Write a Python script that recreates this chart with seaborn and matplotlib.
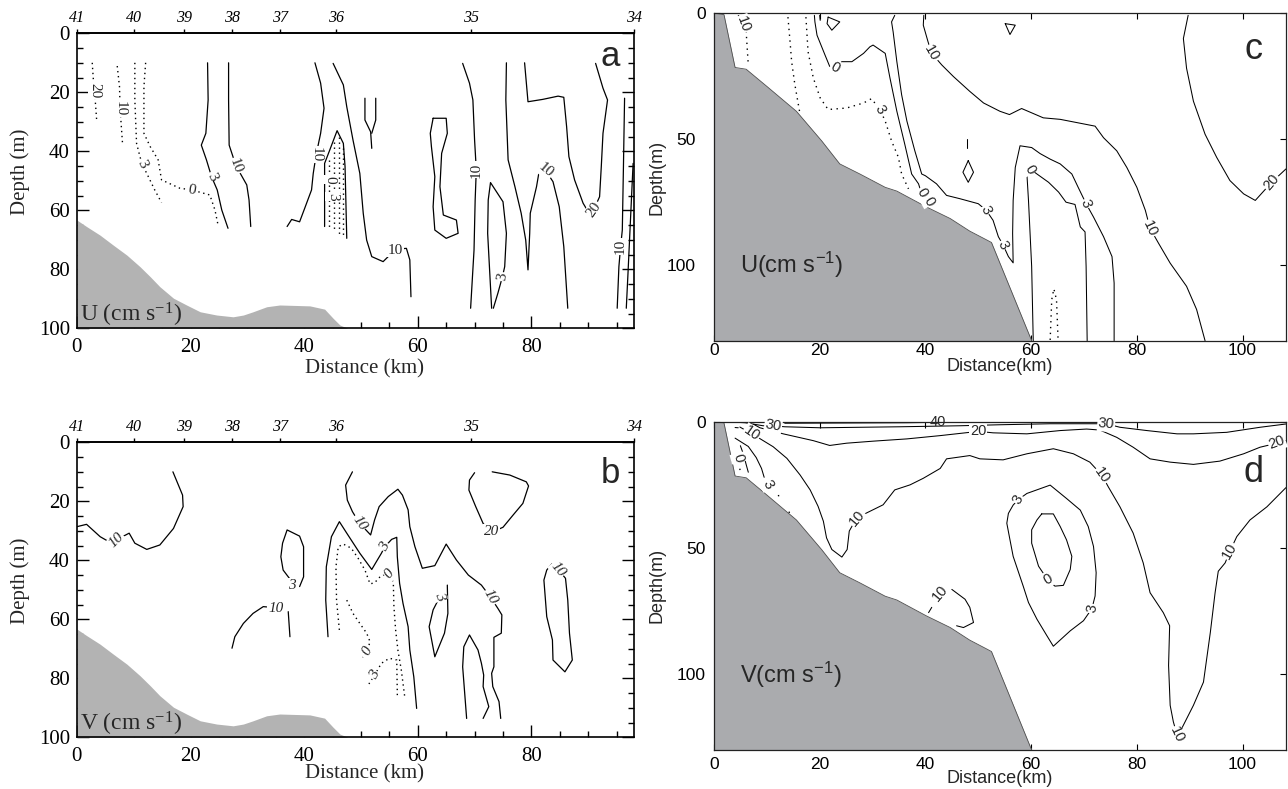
import matplotlib
matplotlib.use("Agg")
import matplotlib.pyplot as plt
import matplotlib.transforms as mtransforms
from matplotlib.ticker import MultipleLocator
import pandas as pd
import seaborn as sns

# ---------------------------------------------------------------------------
# Data: contour polylines (distance km, depth m), read per panel
# ---------------------------------------------------------------------------
STATION_KM = [0, 10.1, 18.9, 27.3, 35.8, 45.6, 69.3, 98.0]
STATION_NAMES = ["41", "40", "39", "38", "37", "36", "35", "34"]

# bottom profile of the transect in panels a, b
AB_BOTTOM_X = [0, 1.7, 4.06, 6.4, 8.8, 11.1, 12.9, 14.6, 17.0, 19.3, 21.7, 24.6,
               27.5, 29.3, 31.0, 33.4, 35.7, 41.0, 43.6, 45.1, 46.3, 47.7]
AB_BOTTOM_Z = [63.3, 65.5, 68.4, 71.8, 75.2, 79.1, 82.5, 85.9, 89.8, 92.1, 94.4, 95.5,
               96.1, 95.5, 94.4, 92.7, 92.1, 92.4, 93.5, 96.6, 98.9, 100]

# bottom profile of the model section in panels c, d
CD_BOTTOM_X = [0, 1.9, 4.0, 6.1, 10.0, 15.6, 20.4, 23.8, 27.6, 32.4, 34.6, 40.2,
               44.7, 48.4, 51.6, 52.5, 60.1]
CD_BOTTOM_Z = [0, 0.5, 21.5, 22.2, 29, 38.9, 50.7, 59.8, 63.8, 69.1, 70.6, 76.9,
               81.5, 86.5, 90, 91, 130]

# ---- panel a : U observed ----
a_neg20 = [(2.7, 10.0), (2.9, 15.8), (3.2, 22), (3.5, 30.0)]
a_neg10 = [(7.1, 11.1), (7.5, 18.1), (7.6, 25.4), (7.8, 31), (8.05, 37.9)]
a_neg3 = [(10.2, 10.0), (10.2, 22.6), (10.5, 37.3), (11.1, 41.8), (11.5, 44.5), (12.3, 47.5),
          (13.7, 53.1), (14.9, 57.4)]
a_neg0 = [(12.1, 10.0), (11.8, 18.1), (11.8, 33.9), (12.9, 38.4), (14.3, 42.9), (14.9, 49.7),
          (18.1, 52.5), (20.2, 53.1), (23.4, 54.8), (24.3, 59.9), (24.9, 65.5)]
a_3a = [(23.0, 10), (23.1, 22.6), (22.7, 33.9), (21.9, 37.9), (22.8, 42.9), (23.7, 48.6),
        (24.7, 53.1), (25.5, 59.9), (26.6, 66.1)]
a_10a = [(26.7, 10), (26.7, 22.6), (26.8, 37.9), (28.0, 44.9), (29.9, 51.4), (30.3, 56.5),
         (30.6, 65.5)]
a_10b = [(41.9, 10), (42.9, 16.9), (43.5, 25.4), (42.9, 33.9), (42.1, 41.3), (41.6, 47.5),
         (41.3, 53.1), (40.1, 59.3), (39.2, 63.9), (37.8, 63.1), (37.0, 65.5)]
a_3b = [(43.6, 65.5), (43.6, 44.1), (44.5, 39.6), (45.8, 33.0), (46.9, 37.3), (47.2, 45.2),
        (47.5, 69.5)]
a_core1 = [(44.3, 43), (44.3, 66)]
a_core2 = [(45.2, 37), (45.2, 67)]
a_core3 = [(46.1, 35), (46.1, 68)]
a_core4 = [(46.9, 39), (46.9, 69)]
a_10c = [(45.1, 10.2), (46.9, 17.5), (47.5, 24.9), (48.6, 36.2), (49.8, 47.5), (50.4, 61.0),
         (51.0, 70.1), (51.9, 75.7), (53.9, 77.4), (56.1, 73.2), (58.0, 72.9), (58.6, 76.8),
         (58.8, 89.3)]
a_cell1 = [(50.7, 22.0), (50.7, 29.4), (51.7, 33.4), (51.9, 39.0)]
a_cell2 = [(52.6, 22.0), (52.6, 29.4), (51.9, 33.9)]
a_loop = [(62.7, 28.8), (65.0, 28.8), (65.2, 33.9), (64.2, 40.7), (63.9, 52.0), (64.5, 61.6),
          (66.8, 63.3), (67.1, 67.8), (65.0, 69.5), (63.0, 66.7), (62.7, 58.8), (63.0, 48.6),
          (62.4, 38.4), (62.2, 33.9), (62.7, 28.8)]
a_10d = [(67.9, 10.2), (69.1, 16.9), (69.7, 22.6), (70.0, 36.2), (70.3, 46.3), (70.1, 56.5),
         (69.9, 73.5), (69.3, 93.2)]
a_3c = [(73.0, 93.2), (72.3, 67.8), (72.4, 56.5), (72.8, 50.6), (75.0, 57.1), (75.6, 67.8),
        (75.3, 79.1), (74.9, 82.5), (74.1, 88.1), (73.3, 93.2)]
a_10e = [(75.6, 10), (75.5, 22.6), (75.9, 42.9), (77.1, 52.0), (78.2, 61.0), (79.0, 70.1),
         (79.4, 80.2), (79.7, 67.8), (79.8, 61.0), (80.9, 52.0), (81.3, 47.5), (82.7, 47.1),
         (83.8, 50.3), (84.9, 58.8), (85.7, 72.3), (86.4, 93.2)]
a_20 = [(78.8, 10), (79.4, 23.2), (82.0, 22.4), (84.7, 21.3), (85.7, 21.7), (86.2, 31.7),
        (86.6, 41.8), (87.6, 49.7), (89.1, 57.6), (90.0, 60.5), (91.0, 59.7), (92.0, 55.4),
        (92.3, 45.2), (92.6, 33.9), (93.4, 22.6), (92.6, 18.6), (91.3, 10.2)]
a_10f = [(96.4, 22.0), (96.2, 45.2), (96.0, 66.7), (95.7, 72.3), (95.4, 79.1), (95.1, 93.2)]
a_10g = [(97.9, 44.1), (97.6, 56.5), (97.0, 81.4), (96.7, 93.2)]

A_SOLID = [a_3a, a_10a, a_10b, a_3b, a_10c, a_cell1, a_cell2, a_loop, a_10d, a_3c, a_10e,
           a_20, a_10f, a_10g]
A_DOTTED = [a_neg20, a_neg10, a_neg3, a_neg0, a_core1, a_core2, a_core3, a_core4]
A_LABELS = [("20", 3.2, 19.5, -90), ("10", 7.6, 25.4, -90), ("3", 11.4, 44.3, -65),
            ("0", 20.2, 53.1, -10), ("3", 23.7, 48.6, -65), ("10", 28.0, 44.9, -70),
            ("10", 42.2, 41.0, -90), ("0", 44.5, 49.7, -90), ("3", 45.0, 55.4, -90),
            ("10", 56.1, 73.5, 0), ("10", 70.3, 46.3, 90), ("3", 74.9, 82.5, 80),
            ("10", 82.5, 46.5, -40), ("20", 91.0, 59.7, 55), ("10", 95.7, 72.3, 90)]

# ---- panel b : V observed ----
b_10a = [(0, 28.6), (1.7, 27.8), (4.1, 32.0), (6.1, 34.2), (6.9, 33.1), (9.2, 30.8),
         (10.2, 34.2), (12.3, 36.3), (14.6, 34.8), (17.0, 29.2), (18.7, 21.8), (18.6, 17.9),
         (16.9, 10.0)]
b_3a = [(37.4, 46.1), (36.3, 43.3), (35.9, 38.8), (36.2, 34.2), (37.0, 29.7), (39.2, 31.8),
        (39.9, 35.4), (39.9, 45.6), (39.2, 48.9)]
b_10b = [(27.3, 69.8), (27.8, 65.9), (29.3, 61.4), (31.0, 58.0), (32.8, 55.7), (33.4, 55.8)]
b_10s = [(37.2, 57.4), (37.5, 65.9)]
b_3b = [(44.2, 65.9), (43.8, 53.5), (43.9, 42.2), (44.8, 32.0), (46.2, 26.9), (47.5, 30.8),
        (49.8, 37.6), (51.9, 43.1), (52.7, 40.5), (53.6, 37.6), (54.2, 35.4), (55.4, 32.9),
        (56.3, 32.2), (56.4, 38.8), (56.8, 47.8), (57.4, 54.6), (58.3, 62.5), (58.6, 70.4),
        (59.3, 79.5), (59.8, 90.2)]
b_neg0a = [(46.2, 63.6), (45.7, 53.5), (45.6, 42.2), (46.0, 35.4), (46.9, 34.5), (48.3, 35.9),
           (49.5, 39.3), (50.7, 43.3), (51.6, 48.0), (52.4, 47.6), (53.5, 45.3), (55.1, 44.2),
           (55.7, 47.8), (55.8, 55.7), (56.1, 63.6), (56.5, 70.4), (57.1, 77.2), (57.7, 86.2)]
b_neg0b = [(47.5, 53.5), (48.6, 58.0), (49.8, 61.4), (51.0, 64.7), (51.6, 67.6), (51.1, 70.6),
           (50.3, 72.9)]
b_neg3 = [(56.4, 85.7), (56.3, 73.8), (55.0, 73.2), (53.6, 74.9), (52.4, 78.9), (51.4, 81.9)]
b_10c = [(48.5, 10.0), (47.3, 14.5), (47.6, 19.6), (48.5, 23.5), (49.7, 27.3), (51.7, 31.4),
         (52.4, 26.3), (53.2, 21.8), (54.8, 18.4), (56.5, 15.9), (57.3, 17.9), (58.3, 22.9),
         (58.6, 28.6), (59.5, 35.4), (60.8, 42.7), (63.0, 41.8), (65.0, 34.5), (66.8, 39.9),
         (68.9, 45.0), (71.2, 48.4), (72.8, 52.5), (74.1, 56.3), (74.8, 58.5), (74.7, 64.7),
         (73.4, 66.1), (73.4, 76.1), (73.0, 78.3), (73.2, 82.8), (74.3, 87.9), (74.6, 93.6)]
b_10d = [(68.6, 93.6), (67.9, 76.1), (68.1, 69.3), (69.1, 65.3), (70.6, 70.4), (71.2, 74.9),
         (71.6, 78.9), (71.5, 82.8), (72.5, 89.6), (71.5, 93.6)]
b_3c = [(65.2, 48.4), (65.3, 58.0), (64.7, 64.7), (63.0, 72.7), (62.0, 62.5), (62.7, 56.8),
        (63.9, 52.3)]
b_20 = [(70.0, 10.3), (69.1, 12.8), (69.0, 16.2), (70.2, 21.8), (71.5, 27.5), (73.0, 30.5),
        (75.0, 28.8), (76.8, 24.6), (78.5, 20.7), (79.5, 14.8), (79.1, 13.4), (76.2, 11.1),
        (73.1, 10.0)]
b_10e = [(84.7, 43.0), (86.0, 46.1), (86.4, 53.5), (86.7, 64.7), (87.2, 73.8), (85.9, 77.8),
         (83.8, 73.8), (83.7, 67.0), (82.7, 59.1), (82.2, 46.7), (82.7, 43.3), (83.6, 41.2)]

B_SOLID = [b_10a, b_3a, b_10b, b_10s, b_3b, b_10c, b_10d, b_3c, b_20, b_10e]
B_DOTTED = [b_neg0a, b_neg0b, b_neg3]
B_LABELS = [("10", 7.0, 33.3, 45), ("3", 37.8, 48.4, 0), ("10", 35.0, 56.3, 0),
            ("3", 54.2, 35.4, 60), ("0", 55.0, 44.5, 50), ("0", 51.1, 70.6, 60),
            ("3", 52.4, 78.9, 60), ("10", 49.7, 27.3, -55), ("10", 72.8, 52.5, -60),
            ("3", 63.9, 52.3, -70), ("20", 73.0, 30.3, 0), ("10", 84.7, 43.0, -50)]

# ---- panel c : U model ----
c_neg10 = [(4.6, 0.8), (5.5, 4.2), (6.1, 7.4), (6.3, 14), (6.5, 20.5)]
c_neg1 = [(14.0, 1.5), (14.4, 11.3), (14.7, 19.2), (15.3, 28.2), (16.3, 40.2)]
c_neg3 = [(17.4, 1.5), (17.8, 15.2), (18.8, 25.7), (20.1, 33.6), (21.6, 38.2), (25.1, 37.6),
          (28.3, 35.6), (29.8, 33.9), (31.4, 38.2), (32.4, 42.8), (33.6, 50.7), (34.9, 57.2),
          (35.5, 63.8), (36.8, 69.7)]
c_neg0 = [(63.6, 129.7), (63.9, 113.7), (64.3, 109.4), (64.8, 113.7), (65.1, 129.7)]
c_0a = [(19.0, 0.8), (19.1, 3.4), (19.5, 8.7), (21.0, 16.5), (21.9, 21.1), (22.9, 21.5),
        (24.2, 19.2), (26.1, 19.2), (28.3, 15.9), (29.5, 13.3), (30.1, 12.6), (32.4, 15.9),
        (33.3, 25.7), (34.6, 38.9), (36.1, 52.0), (37.4, 63.8), (38.7, 67.7), (39.3, 71.7)]
c_3 = [(34.2, 0.8), (33.6, 3.4), (33.9, 7.4), (34.6, 19.2), (35.5, 32.3), (36.5, 42.8),
       (38.0, 54.6), (39.3, 63.8), (40.0, 64.5), (42.1, 67.7), (44.0, 72.3), (46.5, 73.6),
       (50.0, 75.6), (51.5, 78.2), (52.8, 82.2), (53.8, 88.7), (54.7, 92.0), (55.7, 96.6),
       (56.6, 99.1), (56.5, 87.4), (56.6, 74.3), (57.0, 61.2), (57.9, 52.6), (60.1, 53.3),
       (61.7, 55.7), (63.6, 57.9), (65.5, 59.8), (67.7, 63.8), (68.9, 69.1), (70.4, 75.6),
       (71.8, 80.9), (73.7, 88.7), (75.3, 96.6), (75.7, 107.1), (75.7, 130)]
c_0b = [(60.4, 130), (60.1, 100.5), (59.5, 74.3), (59.2, 63.8), (59.8, 61.8), (61.1, 63.8),
        (63.3, 67.1), (65.2, 71.0), (66.6, 75.0), (68.3, 75.9), (69.3, 84.8), (70.2, 86.8),
        (70.4, 100.5), (70.6, 130)]
c_10 = [(39.7, 0.8), (39.6, 4.7), (40.5, 11.3), (41.2, 15.9), (43.1, 20.5), (45.3, 25.1),
        (48.4, 31.0), (51.0, 35.6), (54.1, 38.9), (55.9, 40.2), (58.2, 37.8), (62.3, 41.5),
        (65.5, 42.1), (69.9, 43.9), (72.1, 44.8), (73.7, 49.4), (76.2, 54.6), (78.1, 61.2),
        (80.0, 69.1), (81.6, 78.2), (82.5, 85.4), (84.1, 91.3), (86.3, 99.2), (89.4, 108.4),
        (91.3, 117.6), (92.9, 130)]
c_20 = [(89.7, 0.8), (88.8, 10.0), (89.4, 21.8), (90.7, 34.9), (92.9, 48.0), (95.1, 57.2),
        (97.6, 66.4), (100.2, 71.7), (102.4, 74.3), (105.5, 67.1), (108.2, 61.8)]
c_cell1 = [(21.6, 1.5), (23.8, 3.4), (22.3, 6.7), (21.4, 4.1), (21.6, 1.5)]
c_cell2 = [(20.0, 0.8), (20.1, 2.8)]
c_cell3 = [(55.1, 4.1), (57.0, 4.7), (56.0, 8.4), (55.1, 4.1)]
c_cell4 = [(47.9, 50.0), (47.9, 53.3)]
c_cell5 = [(48.1, 58.5), (49.1, 63.1), (48.1, 67.1), (47.1, 63.1), (48.1, 58.5)]

C_SOLID = [c_0a, c_3, c_0b, c_10, c_20, c_cell1, c_cell2, c_cell3, c_cell4, c_cell5]
C_DOTTED = [c_neg10, c_neg1, c_neg3, c_neg0]
C_LABELS = [("10", 5.5, 4.2, -70), ("3", 31.4, 38.2, -60), ("0", 22.9, 21.5, -30),
            ("0", 39.3, 71.2, -60), ("0", 40.6, 74.6, -60), ("3", 51.5, 78.2, -65),
            ("3", 54.7, 92.0, -65), ("3", 70.4, 75.6, -70), ("0", 59.8, 62.0, -60),
            ("10", 41.2, 15.9, -60), ("10", 82.5, 85.4, -65), ("20", 105.5, 67.1, 50)]

# ---- panel d : V model ----
d_40 = [(13.4, 0.6), (25.0, 0.5), (36.5, 0.4), (40.0, 0.3)]
d_30 = [(2.1, 0.0), (5.9, 0.4), (9.3, 1.6), (11.2, 1.6), (13.4, 2.0), (20.1, 2.4), (35.2, 2.0),
        (46.5, 1.6), (54.1, 1.2), (63.6, 0.8), (72.1, 0.8), (74.2, 0.8), (76.8, 2.2),
        (81.9, 3.5), (87.6, 4.8), (90.7, 4.8), (97.0, 4.2), (103.3, 2.2), (108.2, 0.9)]
d_20 = [(7.5, 1.0), (8.7, 2.4), (13.1, 4.8), (18.8, 7.5), (21.9, 9.4), (25.1, 8.5), (30.1, 7.7),
        (36.5, 6.8), (42.8, 5.5), (48.4, 4.2), (50.0, 3.8), (52.8, 4.4), (59.2, 4.8),
        (65.5, 3.5), (70.5, 2.9), (73.0, 3.3), (76.2, 6.2), (79.3, 10.1), (82.5, 14.7),
        (86.3, 16.0), (90.7, 16.9), (95.7, 15.6), (100.2, 12.7), (103.3, 10.1), (106.5, 8.5),
        (108.2, 7.5)]
d_10 = [(4.9, 2.1), (7.1, 4.7), (8.7, 6.7), (11.2, 9.9), (13.8, 14.5), (16.3, 21.1),
        (18.2, 27.0), (19.7, 33.5), (20.7, 39.4), (21.3, 46.0), (22.3, 50.6), (24.2, 53.6),
        (25.2, 50.6), (25.6, 43.3), (27.0, 38.1), (28.9, 36.1), (32.0, 32.9), (34.2, 27.0),
        (37.1, 25.0), (39.6, 22.4), (42.8, 18.5), (44.0, 14.7), (48.4, 13.4), (50.3, 14.7),
        (54.7, 15.1), (59.2, 12.7), (64.2, 10.7), (68.0, 12.7), (71.1, 16.0), (73.4, 21.2),
        (74.6, 25.8), (76.8, 33.7), (79.3, 44.1), (81.2, 55.9), (82.5, 67.7), (85.0, 75.6),
        (86.2, 80.8), (86.0, 96.5), (86.3, 112.3), (86.9, 118.8), (87.6, 124.0), (88.5, 121.4),
        (90.7, 112.3), (92.6, 103.1), (93.9, 83.4), (94.8, 67.7), (95.4, 59.2), (96.7, 55.9),
        (97.6, 51.3), (98.9, 45.5), (101.4, 38.9), (104.6, 33.7), (108.2, 26.1)]
d_3 = [(57.6, 30.8), (59.2, 28.4), (63.6, 25.1), (66.7, 30.4), (69.3, 35.0), (70.8, 41.5),
       (71.8, 49.4), (72.3, 59.8), (72.1, 69.0), (71.5, 74.0), (69.9, 78.8), (67.4, 82.8),
       (64.2, 88.9), (63.0, 84.8), (61.1, 78.2), (59.5, 71.6), (58.5, 65.1), (56.6, 53.3),
       (56.0, 46.8), (55.4, 40.2), (55.7, 36.3), (56.6, 33.0), (57.6, 30.8)]
d_0 = [(62.0, 36.5), (64.2, 36.5), (65.5, 41.5), (66.7, 46.8), (67.7, 53.3), (67.4, 58.5),
       (66.1, 64.8), (64.5, 65.1), (63.1, 62.5), (61.4, 57.2), (60.1, 48.1), (60.1, 42.8),
       (61.1, 38.9), (62.0, 36.5)]
d_10s = [(45.0, 66.4), (47.5, 70.3), (48.4, 73.5), (49.1, 79.5), (47.2, 81.5), (45.9, 80.8)]
d_10t = [(40.6, 75.6), (41.2, 73.5)]
d_3s = [(4.0, 6.5), (6.5, 9.8), (8.0, 14.2), (9.0, 18.5), (9.5, 22.0)]
d_0s = [(5.0, 9.5), (5.6, 13.0), (6.1, 17.0), (6.5, 20.0)]
d_dash = [(4.0, 2.3), (4.6, 2.4)]
d_neg0 = [(4.9, 18.6), (5.0, 20.6)]
d_neg3a = [(12.2, 29.0), (12.3, 30.2)]
d_neg3b = [(14.2, 35.6), (14.4, 36.8)]

D_SOLID = [d_40, d_30, d_20, d_10, d_3, d_0, d_10s, d_10t, d_3s, d_0s, d_dash]
D_DOTTED = [d_neg0, d_neg3a, d_neg3b]
D_LABELS = [("30", 11.2, 1.6, -10), ("30", 74.2, 0.9, -5), ("20", 50.0, 3.8, 0),
            ("20", 106.5, 8.3, 20), ("10", 7.1, 4.7, -35), ("10", 27.0, 38.1, 50),
            ("10", 73.4, 21.2, -55), ("10", 87.6, 124.0, -65), ("10", 97.6, 51.3, 60),
            ("3", 57.6, 30.8, 60), ("3", 71.5, 74.0, 80), ("0", 63.1, 62.5, 30),
            ("10", 42.8, 67.7, 50), ("3", 10.2, 25.0, -60), ("0", 4.6, 14.3, -75)]
D_TOP_LABEL = ("40", 42.3, 0.2, 0)

# ---------------------------------------------------------------------------
SERIF = ["Liberation Serif", "DejaVu Serif"]
SANS = ["Liberation Sans", "DejaVu Sans"]

sns.set_theme(style="ticks")
plt.rcParams["font.family"] = SERIF
plt.rcParams["axes.edgecolor"] = "black"

fig = plt.figure(figsize=(12.88, 7.89), dpi=100)
ax_a = fig.add_axes([0.0597, 0.5839, 0.4325, 0.3739])
ax_b = fig.add_axes([0.0597, 0.0655, 0.4325, 0.3739])
ax_c = fig.add_axes([0.5543, 0.5682, 0.4441, 0.4149])
ax_d = fig.add_axes([0.5543, 0.0494, 0.4441, 0.4161])


def draw_lines(ax, lines, dotted, lw, dash):
    for pts in lines:
        df = pd.DataFrame(pts, columns=["x", "z"])
        sns.lineplot(data=df, x="x", y="z", sort=False, estimator=None, errorbar=None,
                     ax=ax, color="black", lw=lw,
                     linestyle=dash if dotted else "-", zorder=2)


def draw_labels(ax, labels, family, size, style="normal", boxed=True):
    for text, x, z, rot in labels:
        kw = {}
        if boxed:
            kw["bbox"] = dict(boxstyle="square,pad=0.05", fc="white", ec="none")
        ax.text(x, z, text, rotation=rot, rotation_mode="anchor", ha="center",
                va="center", fontsize=size, family=family, fontstyle=style,
                zorder=3, **kw)


# ------------------------------- panels a, b --------------------------------
for ax, solid, dotted, labels, name, letter, lab_style in [
        (ax_a, A_SOLID, A_DOTTED, A_LABELS, "U", "a", "normal"),
        (ax_b, B_SOLID, B_DOTTED, B_LABELS, "V", "b", "italic")]:
    ax.fill_between(AB_BOTTOM_X, AB_BOTTOM_Z, 100, color="#b3b3b3", lw=0, zorder=1)
    draw_lines(ax, solid, False, 0.9, None)
    draw_lines(ax, dotted, True, 1.0, (0, (1, 2.6)))
    draw_labels(ax, labels, SERIF, 11, style=lab_style)

    ax.set_xlim(0, 98.05)
    ax.set_ylim(100, 0)
    ax.set_xticks([0, 20, 40, 60, 80])
    ax.set_yticks([0, 20, 40, 60, 80, 100])
    ax.xaxis.set_minor_locator(MultipleLocator(5))
    ax.yaxis.set_minor_locator(MultipleLocator(5))
    ax.tick_params(which="both", direction="in", left=True, right=True, bottom=True,
                   top=False, width=1.0, colors="black")
    ax.tick_params(which="major", length=8.5, labelsize=15)
    ax.tick_params(which="minor", length=4.2)
    ax.tick_params(axis="x", which="major", pad=7)
    ax.tick_params(axis="y", which="major", pad=5)
    for sp in ax.spines.values():
        sp.set_linewidth(1.2)
        sp.set_color("black")

    sec = ax.secondary_xaxis("top")
    sec.set_xticks(STATION_KM)
    sec.set_xticklabels(STATION_NAMES, fontstyle="italic", fontsize=11.5, family=SERIF)
    sec.tick_params(direction="out", length=3, width=1.0, pad=2, colors="black")
    sec.spines["top"].set_linewidth(1.2)

    ax.set_xlabel("Distance (km)", fontsize=15, family=SERIF)
    ax.set_ylabel("Depth (m)", fontsize=15, family=SERIF)
    ax.xaxis.label.set_va("center")
    ax.yaxis.label.set_va("center")
    ax.yaxis.set_label_coords(-0.102, 0.53)

    ax.text(0.006, 0.045, name + r" (cm s$\mathregular{^{-1}}$)", transform=ax.transAxes,
            ha="left", va="center", fontsize=17, family=SERIF, zorder=4)
    ax.text(0.958, 0.92 if letter == "a" else 0.895, letter, transform=ax.transAxes,
            ha="center", va="center", fontsize=25, family=SANS, zorder=4)

ax_a.xaxis.set_label_coords(0.517, -0.137)
ax_b.xaxis.set_label_coords(0.517, -0.123)

# ------------------------------- panels c, d --------------------------------
for ax, solid, dotted, labels, name, letter in [
        (ax_c, C_SOLID, C_DOTTED, C_LABELS, "U", "c"),
        (ax_d, D_SOLID, D_DOTTED, D_LABELS, "V", "d")]:
    ax.fill_between(CD_BOTTOM_X, CD_BOTTOM_Z, 130, color="#aaabae", lw=0, zorder=1)
    ax.plot(CD_BOTTOM_X, CD_BOTTOM_Z, color="#4d4d4d", lw=0.6, zorder=1.5)
    draw_lines(ax, solid, False, 0.75, None)
    draw_lines(ax, dotted, True, 1.0, (0, (1, 3.2)))
    draw_labels(ax, labels, SANS, 10.5)

    ax.set_xlim(0, 108.2)
    ax.set_ylim(130, 0)
    ax.set_xticks([0, 20, 40, 60, 80, 100])
    ax.set_yticks([0, 50, 100])
    ax.tick_params(which="both", direction="in", left=True, right=True, bottom=True,
                   top=True, length=4, width=0.8, labelsize=12.5, colors="black")
    for lab in ax.get_xticklabels() + ax.get_yticklabels():
        lab.set_family(SANS)
    for sp in ax.spines.values():
        sp.set_linewidth(0.9)
        sp.set_color("#222222")

    ax.set_xlabel("Distance(km)", fontsize=13, family=SANS)
    ax.set_ylabel("Depth(m)", fontsize=13, family=SANS)
    ax.xaxis.label.set_va("center")
    ax.yaxis.label.set_va("center")
    ax.yaxis.set_label_coords(-0.0997, 0.5)

    ax.text(0.045, 0.23, name + r"(cm s$\mathregular{^{-1}}$)", transform=ax.transAxes,
            ha="left", va="center", fontsize=17, family=SANS, zorder=4)
    ax.text(0.944, 0.888 if letter == "c" else 0.846, letter, transform=ax.transAxes,
            ha="center", va="center", fontsize=26, family=SANS, zorder=4)

draw_labels(ax_d, [D_TOP_LABEL], SANS, 10.5, boxed=False)

ax_c.tick_params(axis="x", pad=1.5)
ax_c.tick_params(axis="y", pad=6)
ax_d.tick_params(axis="x", pad=5)
ax_d.tick_params(axis="y", pad=6)
ax_c.xaxis.set_label_coords(0.5, -0.078)
ax_d.xaxis.set_label_coords(0.5, -0.088)

# the lower depth labels of panel c sit a little further out
shift = mtransforms.ScaledTranslation(-10 / 100, 0, fig.dpi_scale_trans)
for lab in ax_c.get_yticklabels()[1:]:
    lab.set_transform(lab.get_transform() + shift)

fig.savefig("out.png", dpi=100, facecolor="white")
